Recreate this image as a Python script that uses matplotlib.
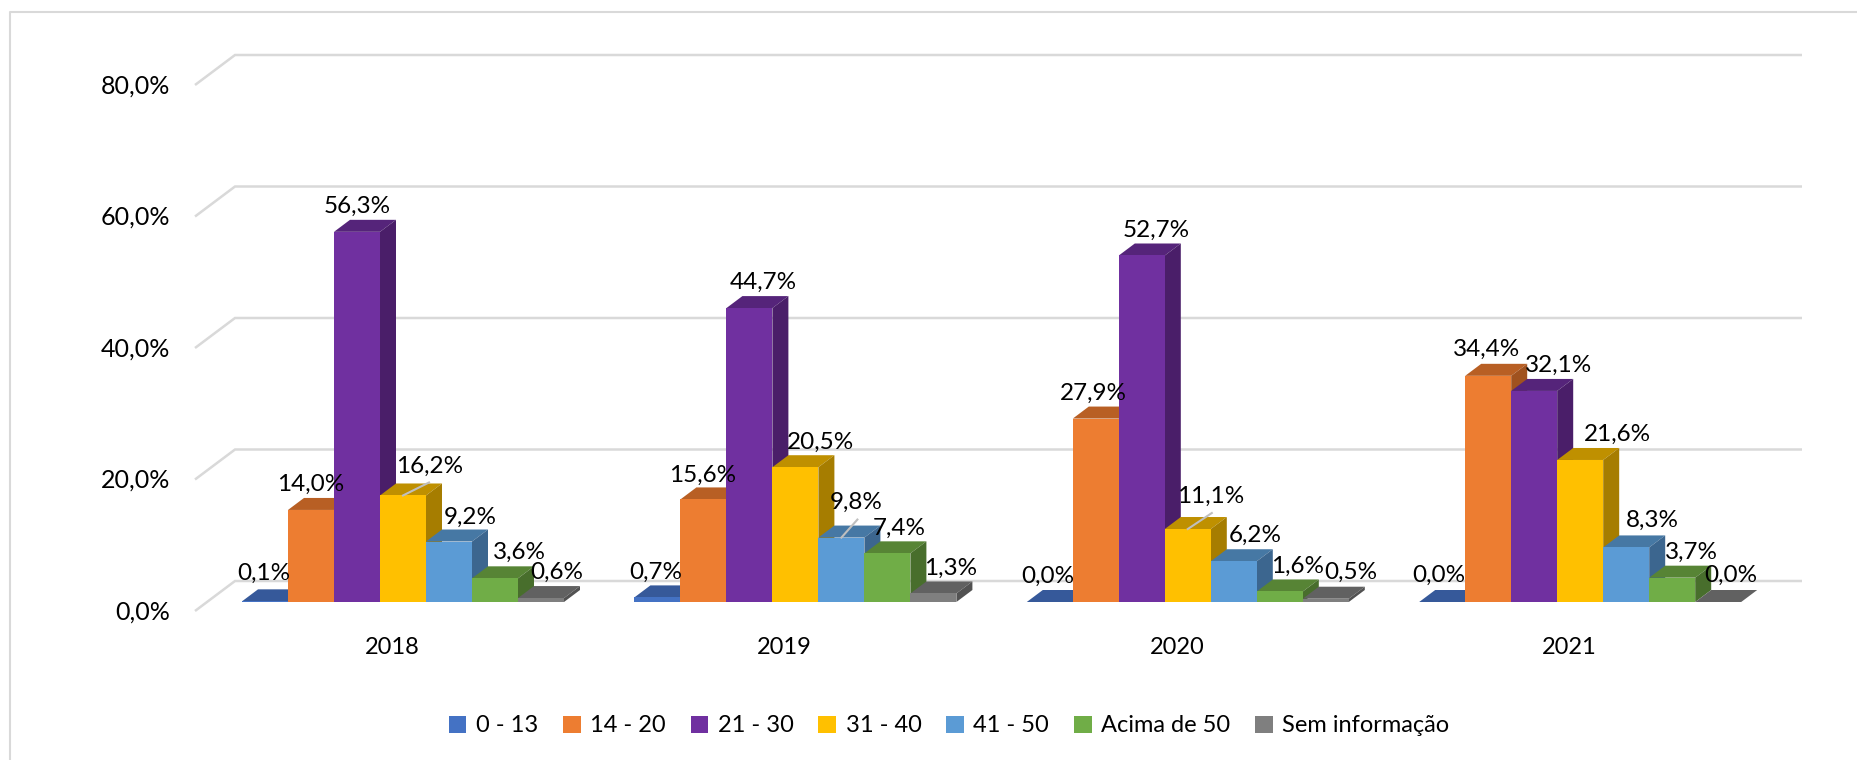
import matplotlib
matplotlib.use('Agg')
import matplotlib.pyplot as plt
from matplotlib.patches import Polygon, Patch

plt.rcParams['font.family'] = ['Lato', 'DejaVu Sans']

years = ['2018', '2019', '2020', '2021']
groups = ['0 - 13', '14 - 20', '21 - 30', '31 - 40', '41 - 50', 'Acima de 50', 'Sem informação']
v_0_13 = [0.1, 0.7, 0.0, 0.0]
v_14_20 = [14.0, 15.6, 27.9, 34.4]
v_21_30 = [56.3, 44.7, 52.7, 32.1]
v_31_40 = [16.2, 20.5, 11.1, 21.6]
v_41_50 = [9.2, 9.8, 6.2, 8.3]
v_50 = [3.6, 7.4, 1.6, 3.7]
v_none = [0.6, 1.3, 0.5, 0.0]
series = [v_0_13, v_14_20, v_21_30, v_31_40, v_41_50, v_50, v_none]
y_ticks = [0, 20, 40, 60, 80]

# front, top, side colours for each series
front = ['#4472C4', '#ED7D31', '#7030A0', '#FFC000', '#5B9BD5', '#70AD47', '#7F7F7F']
top = ['#36599A', '#B85F24', '#55247A', '#BF9000', '#4678A4', '#578435', '#616161']
side = ['#2C4A80', '#A0521F', '#4A1E69', '#A67D00', '#3C668F', '#486E2C', '#525252']

# label offsets from the back top centre of each bar, in pixels (per series, per year)
label_dx = [[-1, -2, -2, -3], [0, -1, -2, -2], [0, 14, 14, 24], [27, 25, 23, 37],
            [21, 15, 21, 26], [24, 12, 18, 19], [16, 17, 25, 13]]
label_up = [[17, 15, 15, 16], [15, 14, 15, 16], [15, 15, 15, 15], [19, 14, 22, 15],
            [14, 25, 15, 17], [15, 15, 15, 15], [15, 15, 16, 16]]
# (series, year): end of the leader line in pixels from the front top centre
leaders = {(3, 0): (26, 13), (4, 1): (16, 18), (3, 2): (24, 16)}

W, H = 1858, 760
X0, GROUP = 403.0, 392.4      # pixel of first group centre, pixels per group
Y0, PER = 602.0, 6.575        # pixel of the bar base, pixels per percent
BAR = 46.0 / GROUP
DX, DY = 16 / GROUP, 12 / PER   # depth of a bar

fig = plt.figure(figsize=(W / 100, H / 100), dpi=100)
ax = fig.add_axes([0, 0, 1, 1])
ax.set_xlim(-X0 / GROUP, (W - X0) / GROUP)
ax.set_ylim((Y0 - H) / PER, Y0 / PER)
ax.axis('off')

# chart border, top and left only
grid_c = '#D9D9D9'
ax.plot([10 / W, 10 / W, 1], [0, 1 - 12 / H, 1 - 12 / H], transform=ax.transAxes,
        color=grid_c, lw=1.5, solid_capstyle='butt')

# walls: diagonal then the back line
left = (195 - X0) / GROUP
back = (235 - X0) / GROUP
right = (1802 - X0) / GROUP
for t in y_ticks:
    ax.plot([left, back, right], [t - 9 / PER, t + 21 / PER, t + 21 / PER],
            color=grid_c, lw=1.8, zorder=1, solid_joinstyle='miter', solid_capstyle='butt')
    ax.annotate(f'{t},0%', (left, t - 9 / PER), xytext=(-25, -1),
                textcoords='offset pixels', ha='right', va='center', fontsize=18, color='black')

n = len(series)
for s, vals in enumerate(series):
    for i, v in enumerate(vals):
        x = i + (s - n / 2) * BAR
        z = 2 + s / 10
        ax.add_patch(Polygon([(x, v), (x + BAR, v), (x + BAR + DX, v + DY), (x + DX, v + DY)],
                             fc=top[s], ec='none', zorder=z))
        ax.add_patch(Polygon([(x + BAR, 0), (x + BAR + DX, DY), (x + BAR + DX, v + DY), (x + BAR, v)],
                             fc=side[s], ec='none', zorder=z))
        ax.bar(x, v, BAR, align='edge', color=front[s], zorder=z)
        ax.annotate(f'{v:.1f}%'.replace('.', ','), (x + BAR / 2, v + DY),
                    xytext=(label_dx[s][i], label_up[s][i] - 1.5), textcoords='offset pixels',
                    ha='center', va='center', fontsize=17.5, color='black', zorder=5)
        if (s, i) in leaders:
            ex, ey = leaders[(s, i)]
            ax.plot([x + BAR / 2, x + BAR / 2 + ex / GROUP], [v, v + ey / PER],
                    color='#BFBFBF', lw=1.5, zorder=4)

for i, y in enumerate(years):
    ax.annotate(y, (i, (Y0 - 647) / PER), xytext=(-11, 0), textcoords='offset pixels',
                ha='center', va='center', fontsize=17, color='black')

handles = [Patch(fc=c, label=g) for c, g in zip(front, groups)]
ax.legend(handles=handles, ncol=7, loc='center', bbox_to_anchor=(949 / W, 1 - 726 / H),
          frameon=False, fontsize=17, handlelength=0.75, handleheight=0.75,
          handletextpad=0.4, columnspacing=1.05)

fig.savefig('out.png', dpi=100)
